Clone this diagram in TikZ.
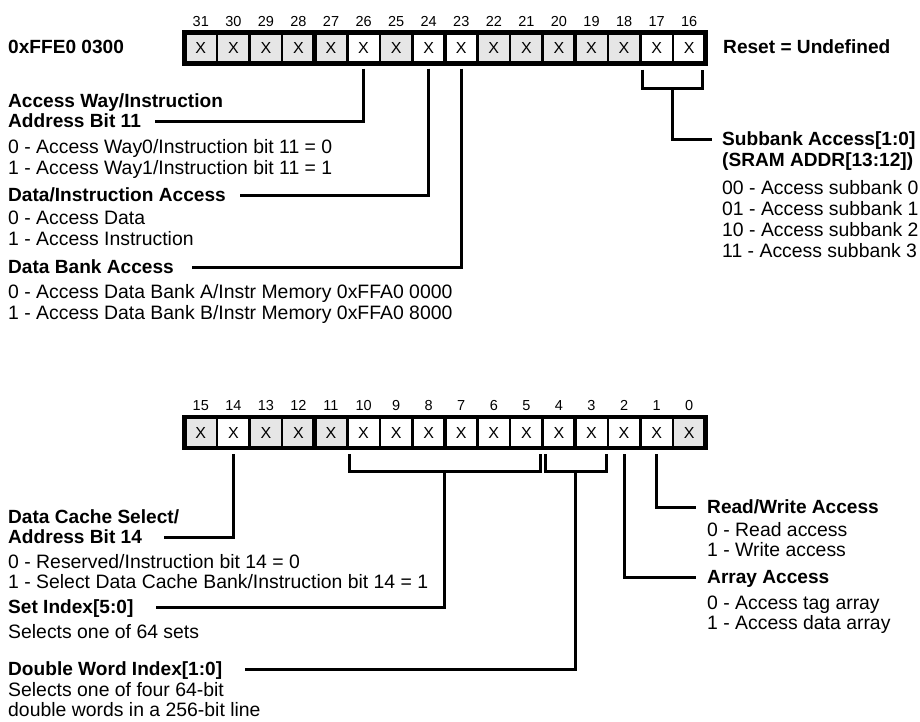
\documentclass[tikz,border=0pt]{standalone}
\usepackage{fontspec}
\setmainfont{Liberation Sans}
\usepackage{tikz}
\definecolor{cellgray}{HTML}{E6E6E6}

\begin{document}
\begin{tikzpicture}%
    [x=1pt, y=-1pt, label distance=6.3pt,
    cell/.style={rectangle, draw=black, line width=2.5pt, minimum width=32.56pt, minimum height=31pt, inner sep=0pt, outer sep=0pt, font=\fontsize{16}{16}\selectfont},
    bitno/.style={font=\fontsize{14.5}{15}\selectfont, inner sep=0pt, text height=10.4pt, text depth=0pt},
    regframe/.style={line width=4.5pt},
    fieldname/.style={anchor=west, inner sep=0pt, text height=13.6pt, text depth=0pt, font=\bfseries\fontsize{19.1}{21}\selectfont},
    fieldval/.style={anchor=west, inner sep=0pt, text height=13.6pt, text depth=0pt, font=\fontsize{19.4}{21}\selectfont},
    wire/.style={line width=3pt}]

    \useasboundingbox (0,0) rectangle (920,721);

    % upper register
    \foreach \b/\f [count=\k from 0] in {31/cellgray,30/cellgray,29/cellgray,28/cellgray,27/cellgray,26/white,25/cellgray,24/white,23/white,22/cellgray,21/cellgray,20/cellgray,19/cellgray,18/cellgray,17/white,16/white}
      \node [cell, fill=\f, label={[bitno]above:\b}] (b\b) at ({184.5+(\k+0.5)*32.56}, 48) {X};
    \draw [regframe] (b31.north west) rectangle (b16.south east);
    \foreach \b in {28,24,20}
      \draw [regframe] ([yshift=2pt]b\b.north east) -- (b\b.south east);

    % lower register
    \foreach \b/\f [count=\k from 0] in {15/cellgray,14/white,13/cellgray,12/cellgray,11/cellgray,10/white,9/white,8/white,7/white,6/white,5/white,4/white,3/white,2/white,1/white,0/cellgray}
      \node [cell, fill=\f, label={[bitno]above:\b}] (b\b) at ({184.5+(\k+0.5)*32.56}, 432.5) {X};
    \draw [regframe] (b15.north west) rectangle (b0.south east);
    \foreach \b in {12,8,4}
      \draw [regframe] ([yshift=2pt]b\b.north east) -- (b\b.south east);

    \node [fieldname] (addr)  at (8, 47)   {0xFFE0 0300};
    \node [fieldname] (reset) at (723, 47) {Reset = Undefined};

    \node [fieldname] (way)    at (8, 101) {Access Way/Instruction};
    \node [fieldname] (waybit) at (8, 121) {Address Bit 11};
    \node [fieldval]  (way0)   at (8, 147) {0 - Access Way0/Instruction bit 11 = 0};
    \node [fieldval]  (way1)   at (8, 168) {1 - Access Way1/Instruction bit 11 = 1};
    \node [fieldname] (dinst)  at (8, 195) {Data/Instruction Access};
    \node [fieldval]  (dinst0) at (8, 218) {0 - Access Data};
    \node [fieldval]  (dinst1) at (8, 239) {1 - Access Instruction};
    \node [fieldname] (dbank)  at (8, 267) {Data Bank Access};
    \node [fieldval]  (dbank0) at (8, 292) {0 - Access Data Bank A/Instr Memory 0xFFA0 0000};
    \node [fieldval]  (dbank1) at (8, 313) {1 - Access Data Bank B/Instr Memory 0xFFA0 8000};

    \node [fieldname] (subbank) at (722, 139) {Subbank Access[1:0]};
    \node [fieldname] (sram)    at (722, 160) {(SRAM ADDR[13:12])};
    \node [fieldval]  (sub0)    at (722, 188) {00 - Access subbank 0};
    \node [fieldval]  (sub1)    at (722, 209) {01 - Access subbank 1};
    \node [fieldval]  (sub2)    at (722, 230) {10 - Access subbank 2};
    \node [fieldval]  (sub3)    at (722, 251) {11 - Access subbank 3};

    \node [fieldname] (dcache) at (8, 517) {Data Cache Select/};
    \node [fieldname] (dcbit)  at (8, 537) {Address Bit 14};
    \node [fieldval]  (dc0)    at (8, 562) {0 - Reserved/Instruction bit 14 = 0};
    \node [fieldval]  (dc1)    at (8, 582) {1 - Select Data Cache Bank/Instruction bit 14 = 1};
    \node [fieldname] (setidx) at (8, 607) {Set Index[5:0]};
    \node [fieldval]  (sets)   at (8, 632) {Selects one of 64 sets};
    \node [fieldname] (dwidx)  at (8, 669) {Double Word Index[1:0]};
    \node [fieldval]  (dw0)    at (8, 690) {Selects one of four 64-bit};
    \node [fieldval]  (dw1)    at (8, 710) {double words in a 256-bit line};

    \node [fieldname] (rw)     at (707, 507) {Read/Write Access};
    \node [fieldval]  (rw0)    at (707, 530) {0 - Read access};
    \node [fieldval]  (rw1)    at (707, 550) {1 - Write access};
    \node [fieldname] (array)  at (707, 577) {Array Access};
    \node [fieldval]  (array0) at (707, 603) {0 - Access tag array};
    \node [fieldval]  (array1) at (707, 623) {1 - Access data array};

    \draw [wire, shorten <=5pt, shorten >=14pt] (b26.south) |- (waybit.east);
    \draw [wire, shorten <=5pt, shorten >=14pt] (b24.south) |- (dinst.east);
    \draw [wire, shorten <=5pt, shorten >=18pt] (b23.south) |- (dbank.east);
    \draw [wire] ([xshift=2pt,yshift=-6pt]b17.south west) -- ([xshift=2pt,yshift=-25pt]b17.south west)
      -- ([xshift=-3pt,yshift=-25pt]b16.south east) -- ([xshift=-3pt,yshift=-6pt]b16.south east);
    \draw [wire, shorten >=10pt] ([yshift=-25pt]b17.south east) |- (subbank.west);

    \draw [wire, shorten <=6pt, shorten >=22pt] (b14.south) |- (dcbit.east);
    \draw [wire] ([xshift=2pt,yshift=-6pt]b10.south west) -- ([xshift=2pt,yshift=-23pt]b10.south west)
      -- ([xshift=-2pt,yshift=-23pt]b5.south east) -- ([xshift=-2pt,yshift=-6pt]b5.south east);
    \draw [wire, shorten >=22pt] ([yshift=-23pt]b8.south east) |- (setidx.east);
    \draw [wire] ([xshift=2.5pt,yshift=-6pt]b4.south west) -- ([xshift=2.5pt,yshift=-23pt]b4.south west)
      -- ([xshift=-1pt,yshift=-23pt]b3.south east) -- ([xshift=-1pt,yshift=-6pt]b3.south east);
    \draw [wire, shorten >=23pt] ([yshift=-23pt]b4.south east) |- (dwidx.east);
    \draw [wire, shorten <=6pt, shorten >=11pt] (b2.south) |- (array.west);
    \draw [wire, shorten <=6pt, shorten >=11pt] (b1.south) |- (rw.west);
\end{tikzpicture}
\end{document}
